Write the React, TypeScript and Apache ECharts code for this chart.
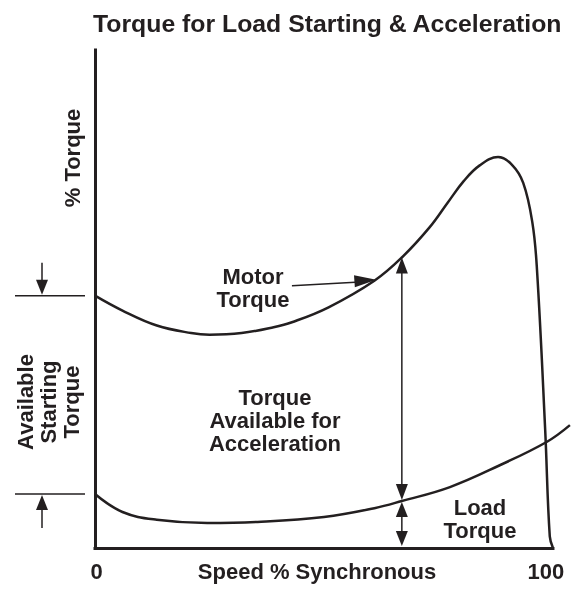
import React, { useEffect, useRef } from 'react';
import * as echarts from 'echarts';

// Motor torque curve (speed % synchronous -> % torque)
const speed = [0, 6, 13.5, 21, 25, 32, 39, 43, 51, 61, 67, 73, 77, 80.5, 84, 88, 91, 93.5, 95.5, 96.5, 98.3, 99.3, 100];
const motorTorque = [152, 143, 134, 129.5, 128.5, 129.5, 133, 136, 145, 161, 175, 193, 208, 221, 230.5, 235.5, 231, 220, 196, 168, 71, 7, 0];
// Load torque curve
const loadSpeed = [0, 6, 13.5, 24.5, 35.5, 50, 61, 67, 77.5, 88.5, 98.7, 103.7];
const loadTorque = [32.5, 21.7, 17, 15, 15.7, 18.7, 24, 28.3, 36.7, 50, 64, 74];
// Axis tick labels
const xTicks = [0, 100];
const xAxisMax = 104;
// Speed at which the "torque available" arrows are drawn and where the motor pointer lands
const arrowSpeed = 67;
const pointerSpeed = 61;
const pointerTail = [43, 158];

const INK = '#231f20';
const FONT = "'Liberation Sans', Arial, Helvetica, sans-serif";

function arrowHead(tx: number, ty: number, fx: number, fy: number, L: number, W: number) {
  const dx = tx - fx, dy = ty - fy;
  const len = Math.hypot(dx, dy);
  const ux = dx / len, uy = dy / len;
  const bx = tx - ux * L, by = ty - uy * L;
  return {
    type: 'polygon', silent: true,
    shape: { points: [[tx, ty], [bx - uy * W / 2, by + ux * W / 2], [bx + uy * W / 2, by - ux * W / 2]] },
    style: { fill: INK },
  };
}
function seg(x1: number, y1: number, x2: number, y2: number, w = 1.5) {
  return { type: 'line', silent: true, shape: { x1, y1, x2, y2 }, style: { stroke: INK, lineWidth: w } };
}
function txt(x: number, y: number, text: string, rot = 0, size = 22) {
  return {
    type: 'text', silent: true, x, y, rotation: rot,
    style: {
      text, fill: INK, fontSize: size, fontWeight: 'bold', fontFamily: FONT,
      align: 'center', verticalAlign: 'middle', lineHeight: 23,
    },
  };
}

export default function App() {
  const ref = useRef<HTMLDivElement>(null);
  useEffect(() => {
    const chart = echarts.init(ref.current!, null, { renderer: 'svg' });
    const motorData = speed.map((s, i) => [s, motorTorque[i]]);
    const loadData = loadSpeed.map((s, i) => [s, loadTorque[i]]);
    chart.setOption({
      animation: false,
      title: {
        text: 'Torque for Load Starting & Acceleration',
        left: 88, top: 6,
        textStyle: { fontSize: 24.8, fontWeight: 'bold', fontFamily: FONT, color: INK },
      },
      grid: { left: 95, top: 50, right: 8.7, bottom: 41, containLabel: false, outerBoundsMode: 'none' },
      xAxis: {
        type: 'value', min: xTicks[0], max: xAxisMax, interval: xTicks[1] - xTicks[0],
        axisLine: { show: false },
        axisTick: { show: false },
        splitLine: { show: false },
        axisLabel: {
          margin: 12, fontSize: 22, fontWeight: 'bold', fontFamily: FONT, color: INK,
          showMaxLabel: false,
          formatter: (v: number) => (xTicks.indexOf(v) < 0 ? '' : v === xTicks[1] ? '{b|' + v + '}' : '{a|' + v + '}'),
          rich: {
            a: { fontSize: 22, fontWeight: 'bold', fontFamily: FONT, color: INK, padding: [0, 0, 0, 3] },
            b: { fontSize: 22, fontWeight: 'bold', fontFamily: FONT, color: INK, padding: [0, 14, 0, 0] },
          },
        },
      },
      yAxis: {
        type: 'value', min: 0, max: 300,
        axisLine: { show: true, lineStyle: { color: INK, width: 3, cap: 'square' } },
        axisTick: { show: false }, axisLabel: { show: false }, splitLine: { show: false },
      },
      series: [
        {
          type: 'line', name: 'Motor Torque', data: motorData, smooth: 0.4, showSymbol: false,
          clip: false, silent: true, lineStyle: { color: INK, width: 2.5 },
          markLine: {
            silent: true, symbol: 'none', label: { show: false },
            lineStyle: { color: INK, width: 3, type: 'solid', cap: 'square' },
            emphasis: { disabled: true },
            data: [[{ coord: [xTicks[0], 0] }, { coord: [xTicks[1], 0] }]],
          },
        },
        {
          type: 'line', name: 'Load Torque', data: loadData, smooth: 0.4, showSymbol: false,
          clip: false, silent: true, lineStyle: { color: INK, width: 2.5 },
        },
      ],
    });

    const px = (x: number, y: number) => chart.convertToPixel({ gridIndex: 0 }, [x, y]) as number[];
    const mAt = (s: number) => motorTorque[speed.indexOf(s)];
    const lAt = (s: number) => loadTorque[loadSpeed.indexOf(s)];

    const g: any[] = [];
    // Left bracket: available starting torque
    const yM = px(0, motorTorque[0])[1];
    const yL = px(0, loadTorque[0])[1];
    g.push(seg(15, yM, 85, yM));
    g.push(seg(42, yM - 33, 42, yM - 10));
    g.push(arrowHead(42, yM - 1, 42, yM - 33, 15, 12));
    g.push(seg(15, yL, 85, yL));
    g.push(seg(42, yL + 34, 42, yL + 10));
    g.push(arrowHead(42, yL + 1, 42, yL + 34, 15, 12));

    // Torque available for acceleration (between motor and load curves)
    const pTop = px(arrowSpeed, mAt(arrowSpeed));
    const pMid = px(arrowSpeed, lAt(arrowSpeed));
    const pBot = px(arrowSpeed, 0);
    g.push(seg(pTop[0], pTop[1] + 8, pMid[0], pMid[1] - 8));
    g.push(arrowHead(pTop[0], pTop[1], pMid[0], pMid[1], 16, 12));
    g.push(arrowHead(pMid[0], pMid[1] - 1, pTop[0], pTop[1], 16, 12));
    // Load torque arrow
    g.push(seg(pMid[0], pMid[1] + 8, pBot[0], pBot[1] - 8));
    g.push(arrowHead(pMid[0], pMid[1] + 1, pBot[0], pBot[1], 15, 12));
    g.push(arrowHead(pBot[0], pBot[1] - 2, pMid[0], pMid[1], 15, 12));

    // Motor torque pointer
    const pTip = px(pointerSpeed, mAt(pointerSpeed));
    const pTail = px(pointerTail[0], pointerTail[1]);
    g.push(seg(pTail[0], pTail[1], pTip[0] - 10, pTip[1] + 1, 1.5));
    g.push(arrowHead(pTip[0] + 2, pTip[1] - 1, pTail[0], pTail[1], 22, 12));

    // Labels
    g.push(txt(72, 158, '% Torque', Math.PI / 2));
    g.push(txt(48, 402, 'Available\nStarting\nTorque', Math.PI / 2));
    g.push(txt(253, 288, 'Motor\nTorque'));
    g.push(txt(275, 420, 'Torque\nAvailable for\nAcceleration'));
    g.push(txt(480, 519, 'Load\nTorque'));
    g.push(txt(317, 571, 'Speed % Synchronous'));

    chart.setOption({ graphic: g });
    return () => chart.dispose();
  }, []);
  return <div ref={ref} style={{ position: 'fixed', left: 0, top: 0, width: 580, height: 589 }} />;
}
